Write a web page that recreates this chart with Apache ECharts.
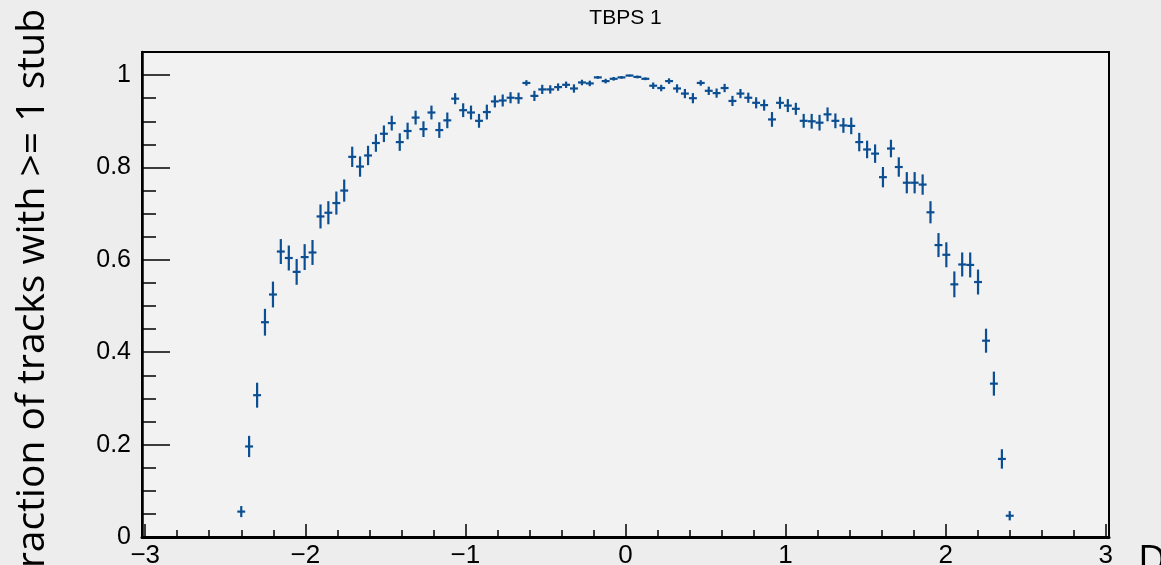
<!DOCTYPE html>
<html>
<head>
<meta charset="utf-8">
<title>TBPS 1</title>
<script src="https://cdn.jsdelivr.net/npm/echarts@6/dist/echarts.min.js"></script>
<style>
  html, body { margin: 0; padding: 0; background: #ededed; }
  #chart { width: 1161px; height: 565px; }
</style>
</head>
<body>
<div id="chart"></div>
<script>
// Bin centres (eta) of the efficiency histogram
const binCenters = [
  -2.400, -2.351, -2.301, -2.252, -2.202, -2.153, -2.103, -2.054, -2.004, -1.955,
  -1.905, -1.856, -1.806, -1.757, -1.707, -1.658, -1.608, -1.559, -1.509, -1.460,
  -1.410, -1.361, -1.311, -1.262, -1.212, -1.163, -1.113, -1.064, -1.014, -0.965,
  -0.915, -0.866, -0.816, -0.767, -0.718, -0.668, -0.619, -0.569, -0.520, -0.470,
  -0.421, -0.371, -0.322, -0.272, -0.223, -0.173, -0.124, -0.074, -0.025,
   0.025,  0.074,  0.124,  0.173,  0.223,  0.272,  0.322,  0.371,  0.421,
   0.470,  0.520,  0.569,  0.619,  0.668,  0.718,  0.767,  0.816,  0.866,  0.915,
   0.965,  1.014,  1.064,  1.113,  1.163,  1.212,  1.262,  1.311,  1.361,  1.410,
   1.460,  1.509,  1.559,  1.608,  1.658,  1.707,  1.757,  1.806,  1.856,  1.905,
   1.955,  2.004,  2.054,  2.103,  2.153,  2.202,  2.252,  2.301,  2.351,  2.400
];

// Fraction of tracks with at least one stub, per bin
const efficiency = [
  0.055, 0.196, 0.307, 0.465, 0.525, 0.618, 0.604, 0.574, 0.606, 0.616,
  0.694, 0.702, 0.723, 0.750, 0.823, 0.802, 0.826, 0.853, 0.873, 0.896,
  0.855, 0.879, 0.908, 0.883, 0.919, 0.881, 0.902, 0.949, 0.924, 0.919,
  0.901, 0.920, 0.943, 0.945, 0.951, 0.950, 0.983, 0.955, 0.969, 0.969,
  0.974, 0.979, 0.971, 0.984, 0.982, 0.995, 0.987, 0.992, 0.995,
  0.999, 0.996, 0.992, 0.977, 0.972, 0.987, 0.971, 0.960, 0.950,
  0.983, 0.966, 0.961, 0.972, 0.944, 0.960, 0.951, 0.940, 0.935, 0.904,
  0.940, 0.934, 0.927, 0.901, 0.900, 0.897, 0.915, 0.901, 0.891, 0.890,
  0.855, 0.839, 0.830, 0.779, 0.841, 0.801, 0.767, 0.767, 0.763, 0.703,
  0.632, 0.611, 0.547, 0.590, 0.589, 0.552, 0.425, 0.332, 0.169, 0.046
];

// Statistical uncertainty on each efficiency value
const efficiencyError = [
  0.012, 0.023, 0.027, 0.029, 0.028, 0.027, 0.027, 0.028, 0.028, 0.027,
  0.026, 0.025, 0.025, 0.024, 0.022, 0.022, 0.021, 0.019, 0.018, 0.016,
  0.019, 0.018, 0.015, 0.017, 0.015, 0.017, 0.017, 0.012, 0.015, 0.015,
  0.015, 0.016, 0.013, 0.013, 0.012, 0.012, 0.006, 0.011, 0.010, 0.009,
  0.008, 0.007, 0.009, 0.006, 0.006, 0.003, 0.005, 0.004, 0.003,
  0.002, 0.003, 0.003, 0.007, 0.007, 0.006, 0.009, 0.010, 0.011,
  0.006, 0.009, 0.010, 0.009, 0.011, 0.010, 0.011, 0.012, 0.012, 0.016,
  0.013, 0.014, 0.013, 0.015, 0.016, 0.017, 0.015, 0.016, 0.016, 0.018,
  0.020, 0.019, 0.020, 0.022, 0.019, 0.021, 0.023, 0.023, 0.022, 0.024,
  0.026, 0.027, 0.028, 0.026, 0.027, 0.027, 0.026, 0.026, 0.021, 0.010
];

// Half of the bin width (horizontal error bar)
const binHalfWidth = 0.0247;

const xTickValues = [-3, -2, -1, 0, 1, 2, 3];
const xMinorTickValues = [
  -2.8, -2.6, -2.4, -2.2, -1.8, -1.6, -1.4, -1.2, -0.8, -0.6, -0.4, -0.2,
  0.2, 0.4, 0.6, 0.8, 1.2, 1.4, 1.6, 1.8, 2.2, 2.4, 2.6, 2.8
];
const yTickValues = [0, 0.2, 0.4, 0.6, 0.8, 1];
const yMinorTickValues = [
  0.05, 0.1, 0.15, 0.25, 0.3, 0.35, 0.45, 0.5, 0.55, 0.65, 0.7, 0.75,
  0.85, 0.9, 0.95
];

const chartTitle = 'TBPS 1';
const yAxisTitle = 'Fraction of tracks with >= 1 stub';
const xAxisTitle = 'D';

const markerColor = '#0b4e91';
const labelFont = '"Liberation Sans", Arial, Helvetica, sans-serif';
const titleFont = '"Open Sans", "Noto Sans", sans-serif';

const points = binCenters.map((x, i) => [x, efficiency[i], efficiencyError[i]]);

const chart = echarts.init(document.getElementById('chart'), null, { renderer: 'canvas' });

const X_MIN = -3.02, X_MAX = 3.02, Y_MIN = 0, Y_MAX = 1.05;

function baseXAxis() {
  return {
    type: 'value', min: X_MIN, max: X_MAX, position: 'bottom',
    axisLine: { show: false, onZero: false },
    splitLine: { show: false }
  };
}
function baseYAxis() {
  return {
    type: 'value', min: Y_MIN, max: Y_MAX, position: 'left',
    axisLine: { show: false, onZero: false },
    splitLine: { show: false }
  };
}

chart.setOption({
  backgroundColor: '#ededed',
  animation: false,
  grid: {
    left: 142, right: 52, top: 52, bottom: 28,
    outerBoundsMode: 'none',
    containLabel: false,
    show: true, backgroundColor: '#f2f2f2',
    borderColor: '#000', borderWidth: 2
  },
  xAxis: [
    Object.assign(baseXAxis(), {
      axisLine: { show: true, onZero: false, lineStyle: { color: '#000', width: 3 } },
      axisTick: {
        show: true, inside: true, length: 13, customValues: xTickValues,
        lineStyle: { color: '#000', width: 1.5 }
      },
      axisLabel: {
        show: true, customValues: xTickValues, margin: 6,
        color: '#000', fontSize: 26, fontFamily: labelFont,
        formatter: v => String(v).replace('-', '\u2212')
      }
    }),
    Object.assign(baseXAxis(), {
      axisTick: {
        show: true, inside: true, length: 7, customValues: xMinorTickValues,
        lineStyle: { color: '#000', width: 1.5 }
      },
      axisLabel: { show: false }
    })
  ],
  yAxis: [
    Object.assign(baseYAxis(), {
      axisLine: { show: true, onZero: false, lineStyle: { color: '#000', width: 2.5 } },
      axisTick: {
        show: true, inside: true, length: 28, customValues: yTickValues,
        lineStyle: { color: '#000', width: 1.5 }
      },
      axisLabel: {
        show: true, customValues: yTickValues, margin: 11,
        color: '#000', fontSize: 25, fontFamily: labelFont
      }
    }),
    Object.assign(baseYAxis(), {
      axisTick: {
        show: true, inside: true, length: 14, customValues: yMinorTickValues,
        lineStyle: { color: '#000', width: 1.5 }
      },
      axisLabel: { show: false }
    })
  ],
  series: [{
    type: 'custom',
    xAxisIndex: 0, yAxisIndex: 0,
    data: points,
    encode: { x: 0, y: 1 },
    renderItem: function (params, api) {
      const x = api.value(0), y = api.value(1), e = api.value(2);
      const c = api.coord([x, y]);
      const l = api.coord([x - binHalfWidth, y]);
      const r = api.coord([x + binHalfWidth, y]);
      const t = api.coord([x, y + e]);
      const b = api.coord([x, y - e]);
      const style = { stroke: markerColor, lineWidth: 2.2 };
      return {
        type: 'group',
        children: [
          { type: 'line', shape: { x1: l[0], y1: c[1], x2: r[0], y2: c[1] }, style: style },
          { type: 'line', shape: { x1: c[0], y1: t[1], x2: c[0], y2: b[1] }, style: style }
        ]
      };
    }
  }],
  graphic: [
    {
      type: 'text', x: 625.5, y: 18,
      style: {
        text: chartTitle, fill: '#000',
        font: '21px ' + labelFont,
        textAlign: 'center', textVerticalAlign: 'middle',
        align: 'center', verticalAlign: 'middle'
      }
    },
    {
      type: 'text', x: 52, y: 9, rotation: Math.PI / 2,
      style: {
        text: yAxisTitle, fill: '#000',
        font: '39px ' + titleFont,
        textAlign: 'right', textVerticalAlign: 'bottom',
        align: 'right', verticalAlign: 'bottom'
      }
    },
    {
      type: 'text', x: 1138, y: 542,
      style: {
        text: xAxisTitle, fill: '#000',
        font: '39px ' + titleFont,
        textAlign: 'left', textVerticalAlign: 'top',
        align: 'left', verticalAlign: 'top'
      }
    }
  ]
});
</script>
</body>
</html>
